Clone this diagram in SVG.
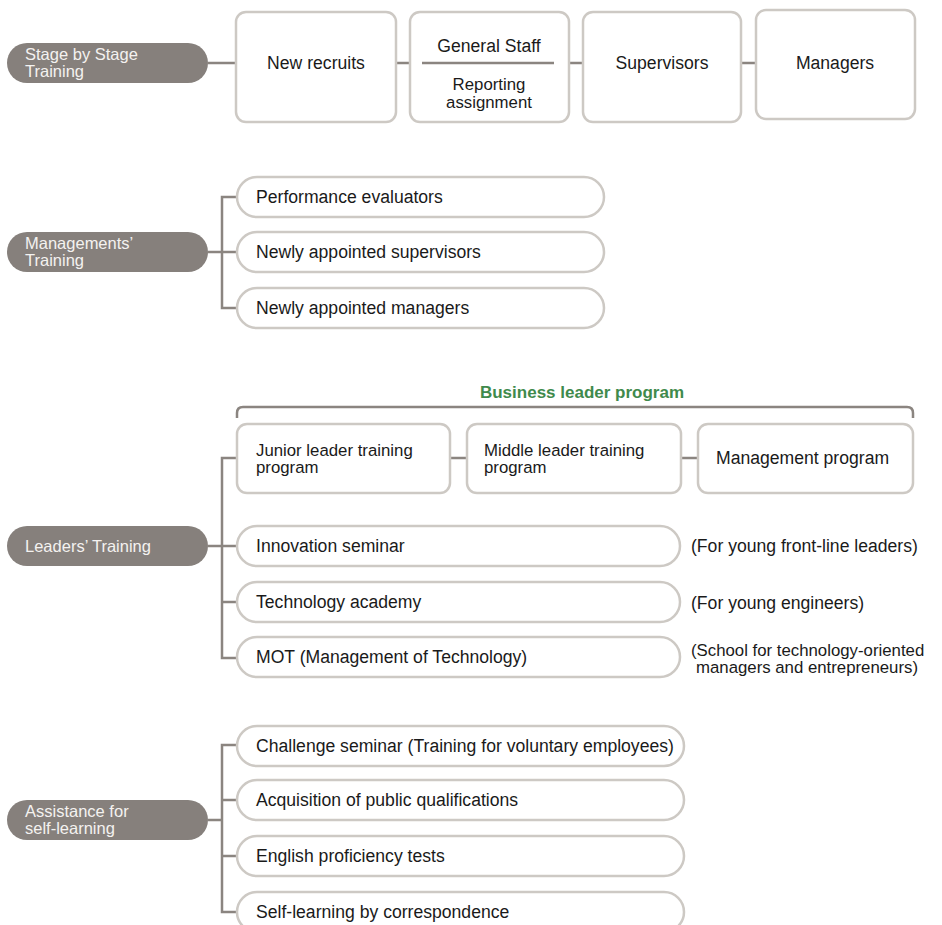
<svg xmlns="http://www.w3.org/2000/svg" width="942" height="925" viewBox="0 0 942 925">
<style>
text{font-family:"Liberation Sans",Arial,sans-serif;font-size:17.6px;fill:#1a1a1a}
.cat rect{fill:#86807c}
.cat text{fill:#f4f2f0;font-size:16.5px}
.two{font-size:16.8px}
.box{fill:#fff;stroke:#cdc9c4;stroke-width:2.5}
.conn{fill:none;stroke:#8b8580;stroke-width:2.5}
.mid{text-anchor:middle}
.green{fill:#3f8a4c;font-weight:bold;font-size:17px}
</style>
<rect width="942" height="925" fill="#fff"/>
<g id="connectors">
<path class="conn" d="M208 63H236M396 63H410M569 63H583M741 63H756"/>
<path class="conn" d="M208 252H222M237 197H222V308H237M222 252H237"/>
<path class="conn" d="M237 418V413Q237 407 243 407H907Q913 407 913 413V418"/>
<path class="conn" d="M450 458H467M681 458H698"/>
<path class="conn" d="M208 546H222M237 458H222V658H237M222 546H237M222 602H237"/>
<path class="conn" d="M208 820H222M237 745H222V912H237M222 800H237M222 856H237"/>
</g>
<g id="cat-stage" class="cat"><rect x="7" y="43" width="201" height="40" rx="20"/><text x="25" y="60">Stage by Stage</text><text x="25" y="77">Training</text></g>
<g id="new-recruits"><rect class="box" x="236" y="12" width="160" height="110" rx="10"/><text class="mid" x="316" y="69">New recruits</text></g>
<g id="general-staff"><rect class="box" x="410" y="12" width="159" height="110" rx="10"/><path class="conn" d="M422 63H554"/><text class="mid" x="489" y="52">General Staff</text><text class="mid two" x="489" y="90">Reporting</text><text class="mid two" x="489" y="107.5">assignment</text></g>
<g id="supervisors"><rect class="box" x="583" y="12" width="158" height="110" rx="10"/><text class="mid" x="662" y="69">Supervisors</text></g>
<g id="managers"><rect class="box" x="756" y="10" width="159" height="109" rx="10"/><text class="mid" x="835" y="69">Managers</text></g>

<g id="cat-management" class="cat"><rect x="7" y="232" width="201" height="40" rx="20"/><text x="25" y="249">Managements’</text><text x="25" y="266">Training</text></g>
<g id="performance-evaluators"><rect class="box" x="237" y="177" width="367" height="40" rx="20"/><text x="256" y="203">Performance evaluators</text></g>
<g id="new-supervisors"><rect class="box" x="237" y="232" width="367" height="40" rx="20"/><text x="256" y="258">Newly appointed supervisors</text></g>
<g id="new-managers"><rect class="box" x="237" y="288" width="367" height="40" rx="20"/><text x="256" y="314">Newly appointed managers</text></g>

<text class="green mid" x="582" y="398">Business leader program</text>
<g id="cat-leaders" class="cat"><rect x="7" y="526" width="201" height="40" rx="20"/><text x="25" y="552">Leaders’ Training</text></g>
<g id="junior"><rect class="box" x="237" y="424" width="213" height="69" rx="10"/><text class="two" x="256" y="455.5">Junior leader training</text><text class="two" x="256" y="473">program</text></g>
<g id="middle"><rect class="box" x="467" y="424" width="214" height="69" rx="10"/><text class="two" x="484" y="455.5">Middle leader training</text><text class="two" x="484" y="473">program</text></g>
<g id="management-program"><rect class="box" x="698" y="424" width="215" height="69" rx="10"/><text x="716" y="464">Management program</text></g>
<g id="innovation"><rect class="box" x="237" y="526" width="443" height="40" rx="20"/><text x="256" y="552">Innovation seminar</text><text x="691" y="552">(For young front-line leaders)</text></g>
<g id="technology"><rect class="box" x="237" y="582" width="443" height="40" rx="20"/><text x="256" y="608">Technology academy</text><text x="691" y="609">(For young engineers)</text></g>
<g id="mot"><rect class="box" x="237" y="637" width="443" height="40" rx="20"/><text x="256" y="663">MOT (Management of Technology)</text><text class="two" x="691" y="655.5">(School for technology-oriented</text><text class="two" x="696" y="673">managers and entrepreneurs)</text></g>

<g id="cat-self" class="cat"><rect x="7" y="800" width="201" height="40" rx="20"/><text x="25" y="817">Assistance for</text><text x="25" y="834">self-learning</text></g>
<g id="challenge"><rect class="box" x="237" y="726" width="447" height="40" rx="20"/><text x="256" y="752">Challenge seminar (Training for voluntary employees)</text></g>
<g id="qualifications"><rect class="box" x="237" y="780" width="447" height="40" rx="20"/><text x="256" y="806">Acquisition of public qualifications</text></g>
<g id="english"><rect class="box" x="237" y="836" width="447" height="40" rx="20"/><text x="256" y="862">English proficiency tests</text></g>
<g id="correspondence"><rect class="box" x="237" y="892" width="447" height="40" rx="20"/><text x="256" y="918">Self-learning by correspondence</text></g>
</svg>
